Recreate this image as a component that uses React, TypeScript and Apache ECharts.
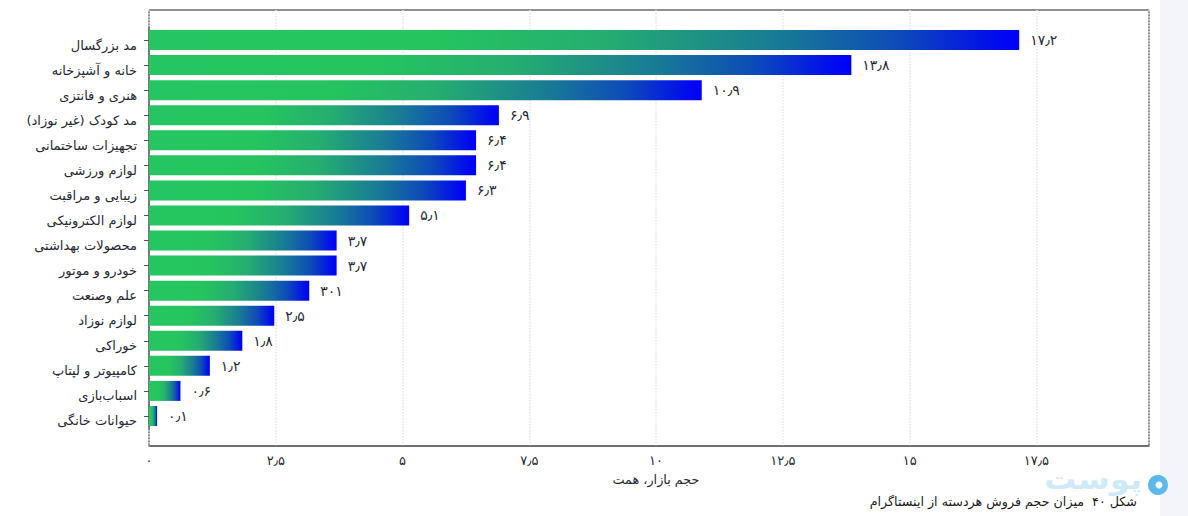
import React, { useEffect, useRef } from "react";
import * as echarts from "echarts";

const categories = [
  "مد بزرگسال",
  "خانه و آشپزخانه",
  "هنری و فانتزی",
  "مد کودک (غیر نوزاد)",
  "تجهیزات ساختمانی",
  "لوازم ورزشی",
  "زیبایی و مراقبت",
  "لوازم الکترونیکی",
  "محصولات بهداشتی",
  "خودرو و موتور",
  "علم وصنعت",
  "لوازم نوزاد",
  "خوراکی",
  "کامپیوتر و لپتاپ",
  "اسباب‌بازی",
  "حیوانات خانگی",
];
const values = [17.16, 13.85, 10.9, 6.9, 6.45, 6.45, 6.25, 5.13, 3.7, 3.7, 3.16, 2.47, 1.84, 1.2, 0.62, 0.16];
const valueLabels = ["۱۷٫۲", "۱۳٫۸", "۱۰٫۹", "۶٫۹", "۶٫۴", "۶٫۴", "۶٫۳", "۵٫۱", "۳٫۷", "۳٫۷", "۳۰۱", "۲٫۵", "۱٫۸", "۱٫۲", "۰٫۶", "۰٫۱"];
const tickValues = [0, 2.5, 5, 7.5, 10, 12.5, 15, 17.5];
const tickLabels = ["۰", "۲٫۵", "۵", "۷٫۵", "۱۰", "۱۲٫۵", "۱۵", "۱۷٫۵"];
const xAxisTitle = "حجم بازار، همت";
const caption = "شکل ۴۰  میزان حجم فروش هردسته از اینستاگرام";
const watermark = "پوست";

const FONT = "'DejaVu Sans', 'Noto Sans', sans-serif";
const INK = "#1f2a33";
const X_MAX = 19.72;

export default function App() {
  const ref = useRef<HTMLDivElement>(null);
  useEffect(() => {
    const chart = echarts.init(ref.current!, undefined, { renderer: "svg" });
    chart.setOption({
      animation: false,
      backgroundColor: "#ffffff",
      textStyle: { fontFamily: FONT },
      grid: [
        { left: 149, top: 10, width: 1000, height: 436, show: true, borderColor: "#222", borderWidth: 1, backgroundColor: "#fff" },
        { left: 149, top: 27.5, width: 1000, height: 401 },
      ],
      xAxis: [
        {
          gridIndex: 0,
          type: "value",
          min: 0,
          max: X_MAX,
          interval: 2.5,
          axisLine: { show: true, lineStyle: { color: "#666", width: 1.5 } },
          axisTick: { show: false },
          splitLine: { show: true, lineStyle: { color: "#e4e6e8", type: "dotted", width: 1.5 } },
          axisLabel: {
            show: true,
            margin: 8,
            fontSize: 13,
            fontFamily: FONT,
            color: INK,
            showMaxLabel: false,
            formatter: (v: number) => {
              const i = tickValues.indexOf(v);
              return i >= 0 ? tickLabels[i] : "";
            },
          },
        },
        { gridIndex: 1, type: "value", min: 0, max: X_MAX, show: false },
      ],
      yAxis: [
        { gridIndex: 0, type: "category", data: [""], show: false },
        {
          gridIndex: 1,
          type: "category",
          inverse: true,
          data: categories,
          axisLine: { show: true, lineStyle: { color: "#666", width: 1.5 } },
          axisTick: { show: true, alignWithLabel: true, length: 5, lineStyle: { color: "#555" } },
          axisLabel: { margin: 12, fontSize: 13, lineHeight: 10, verticalAlign: "top", fontFamily: FONT, color: INK },
        },
      ],
      series: [
        {
          type: "bar",
          xAxisIndex: 1,
          yAxisIndex: 1,
          barWidth: 20,
          data: values,
          itemStyle: {
            color: new echarts.graphic.LinearGradient(0, 0, 1, 0, [
              { offset: 0, color: "#25c661" },
              { offset: 0.33, color: "#25c45f" },
              { offset: 0.52, color: "#25ae70" },
              { offset: 0.725, color: "#187a96" },
              { offset: 0.863, color: "#0d4bb8" },
              { offset: 0.98, color: "#0008f0" },
              { offset: 1, color: "#0000f8" },
            ]),
          },
          label: {
            show: true,
            position: "right",
            distance: 11,
            fontSize: 14,
            fontFamily: FONT,
            color: INK,
            formatter: (p: any) => valueLabels[p.dataIndex],
          },
        },
      ],
      graphic: [
        { type: "rect", z: -1, shape: { x: 1160, y: 0, width: 28, height: 516 }, style: { fill: "#f3f5fb" } },
        { type: "text", x: 656, y: 479, style: { text: xAxisTitle, font: `12.8px ${FONT}`, fill: INK, align: "center", verticalAlign: "middle" } },
        { type: "text", x: 1142, y: 479, scaleX: 1.15, z: 5, style: { text: watermark, font: `bold 28px ${FONT}`, fill: "#cfeaf7", align: "right", verticalAlign: "middle" } },
        { type: "circle", z: 6, shape: { cx: 1158, cy: 485, r: 10 }, style: { fill: "#5cb9ec" } },
        { type: "circle", z: 7, shape: { cx: 1159, cy: 485, r: 3.5 }, style: { fill: "#ffffff" } },
        { type: "text", x: 1137, y: 501, z: 8, style: { text: caption, font: `12.7px ${FONT}`, fill: "#1a1a1a", align: "right", verticalAlign: "middle" } },
      ],
    });
    return () => chart.dispose();
  }, []);
  return <div ref={ref} style={{ position: "fixed", left: 0, top: 0, width: 1188, height: 516 }} />;
}
